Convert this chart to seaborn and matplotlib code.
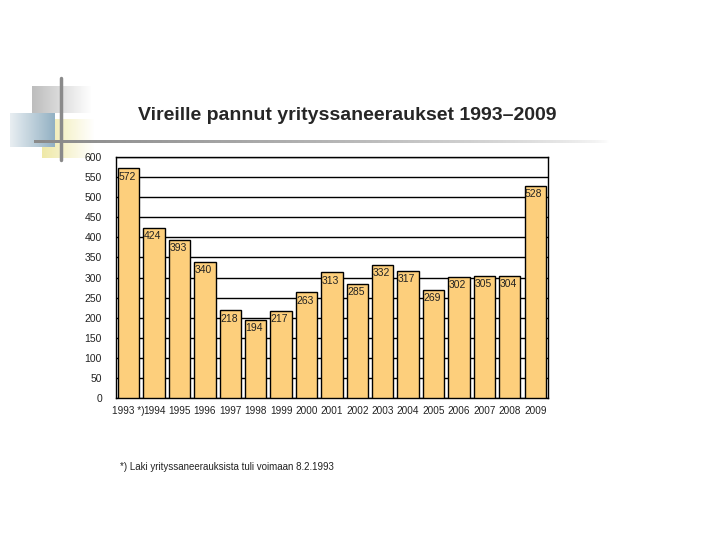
import numpy as np
import pandas as pd
import matplotlib
matplotlib.use("Agg")
import matplotlib.pyplot as plt
import seaborn as sns
from matplotlib.lines import Line2D

sns.set_style("white")
plt.rcParams['font.family'] = ['Liberation Sans', 'DejaVu Sans']

# data
years = ["1993 *)", "1994", "1995", "1996", "1997", "1998", "1999", "2000", "2001",
         "2002", "2003", "2004", "2005", "2006", "2007", "2008", "2009"]
cases = [572, 424, 393, 340, 218, 194, 217, 263, 313, 285, 332, 317, 269, 302, 305, 304, 528]

df = pd.DataFrame({"year": years, "cases": cases})

fig = plt.figure(figsize=(7.2, 5.4), dpi=100)

# decoration top-left
deco = fig.add_axes([0, 0, 1, 1], zorder=-1)
deco.set_xlim(0, 720)
deco.set_ylim(540, 0)
deco.axis("off")
grad = np.linspace(1, 0, 50)[None, :]
gray_cmap = matplotlib.colors.LinearSegmentedColormap.from_list("g", ["white", "#bdbdbd"])
yel_cmap = matplotlib.colors.LinearSegmentedColormap.from_list("y", ["white", "#efe9a8"])
blue_cmap = matplotlib.colors.LinearSegmentedColormap.from_list("b", ["#e8eef2", "#93b1c3"])
line_cmap = matplotlib.colors.LinearSegmentedColormap.from_list("l", ["white", "#c8c8c8", "#8a8a8a"])
deco.imshow(grad, extent=[32, 92, 113, 86], cmap=gray_cmap, aspect="auto")
deco.imshow(grad, extent=[42, 95, 158, 119], cmap=yel_cmap, aspect="auto")
deco.imshow(np.linspace(0, 1, 50)[None, :], extent=[10, 55, 147, 113], cmap=blue_cmap, aspect="auto")
deco.imshow(np.linspace(1, 0, 200)[None, :] ** 0.6, extent=[34, 610, 143, 140], cmap=line_cmap, aspect="auto")
deco.add_line(Line2D([61, 61], [78, 160], color="#8a8a8a", lw=2.5))

ax = fig.add_axes([0.161, 0.263, 0.600, 0.446])
sns.barplot(data=df, x="year", y="cases", order=years, color="#fdcf7c",
            edgecolor="black", linewidth=1, width=0.84, saturation=1, ax=ax, zorder=3)
ax.set_ylim(0, 600)
ax.set_xlim(-0.5, len(years) - 0.5)
ax.set_yticks(range(0, 601, 50))
ax.yaxis.grid(True, color="black", linewidth=1)
ax.set_axisbelow(True)
for s in ax.spines.values():
    s.set_color("black")
    s.set_linewidth(1)
ax.tick_params(axis="y", labelsize=7.5, length=0, pad=10, labelcolor="#222222")
ax.tick_params(axis="x", labelsize=7.2, length=0, pad=6, labelcolor="#222222")
ax.set_xlabel("")
ax.set_ylabel("")

for i, v in enumerate(cases):
    ax.text(i - 0.40, v - 8, str(v), ha="left", va="top", fontsize=7.5, color="#222222", zorder=4)

fig.text(0.482, 0.787, "Vireille pannut yrityssaneeraukset 1993\u20132009", ha="center",
         va="center", fontsize=14, fontweight="bold")
fig.text(0.167, 0.135, "*) Laki yrityssaneerauksista tuli voimaan 8.2.1993", ha="left",
         va="center", fontsize=7, color="#222222")

plt.savefig("out.png", dpi=100)
